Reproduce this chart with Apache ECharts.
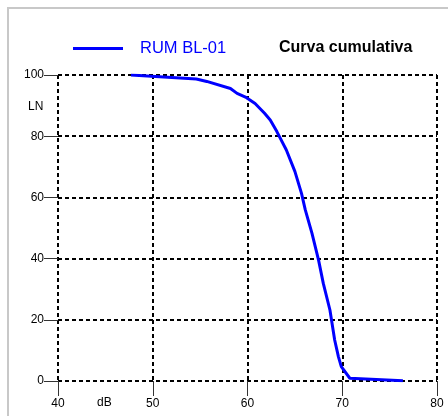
<!DOCTYPE html>
<html>
<head>
<meta charset="utf-8">
<script src="https://cdn.jsdelivr.net/npm/echarts@6/dist/echarts.min.js"></script>
<style>
  html, body { margin: 0; padding: 0; background: #fff; }
  #chart { width: 448px; height: 416px; }
</style>
</head>
<body>
<div id="chart"></div>
<script>
// Cumulative noise-level curve: sound level (dB) vs. percentage exceeded (LN)
const seriesName = 'RUM BL-01';
const chartTitle = 'Curva cumulativa';
const dbValues = [47.7, 54.6, 55.7, 58.2, 58.9, 59.9, 60.8, 61.8, 62.4, 63.1, 64.1, 65.0, 65.7, 66.1, 66.8, 67.5, 68.0, 68.7, 69.2, 69.6, 69.9, 70.8, 76.4];
const lnValues = [100, 98.7, 97.9, 95.6, 94.0, 92.6, 90.7, 87.5, 85.3, 81.5, 75.5, 68.5, 61.3, 55.9, 48.3, 39.5, 31.9, 23.2, 13.4, 7.9, 4.7, 0.9, 0.1];
const xTicks = [40, 50, 60, 70, 80];
const yTicks = [0, 20, 40, 60, 80, 100];

const points = dbValues.map((d, i) => [d, lnValues[i]]);
const font = 'Liberation Sans, Arial, sans-serif';
const gridLine = { show: true, lineStyle: { color: '#000', width: 2, type: [4, 3] } };

const chart = echarts.init(document.getElementById('chart'), null, { renderer: 'canvas' });
chart.setOption({
  animation: false,
  backgroundColor: '#fff',
  textStyle: { fontFamily: font },
  title: {
    text: chartTitle,
    left: 274, top: 35,
    textStyle: { fontSize: 16, fontWeight: 'bold', color: '#000', fontFamily: font }
  },
  legend: {
    left: 68, top: 35,
    itemWidth: 50, itemHeight: 3, itemGap: 10,
    icon: 'rect',
    data: [{ name: seriesName, icon: 'rect' }],
    textStyle: { fontSize: 16.5, color: '#0000ff', fontFamily: font, padding: [0, 0, 2, 12] }
  },
  grid: { left: 58, right: 11, top: 75, bottom: 35, containLabel: false },
  xAxis: {
    type: 'value', min: xTicks[0], max: xTicks[xTicks.length - 1], interval: 10,
    axisLine: { show: false },
    axisTick: { show: true, length: 15, lineStyle: { color: '#333', width: 1 } },
    axisLabel: { fontSize: 12, color: '#000', margin: 17, fontFamily: font },
    splitLine: gridLine
  },
  yAxis: {
    type: 'value', min: yTicks[0], max: yTicks[yTicks.length - 1], interval: 20,
    axisLine: { show: false },
    axisTick: { show: true, length: 14, lineStyle: { color: '#333', width: 1 } },
    axisLabel: { fontSize: 12, color: '#000', margin: 14, fontFamily: font },
    splitLine: gridLine
  },
  graphic: [
    { type: 'rect', silent: true, z: -1,
      shape: { x: 8, y: 8, width: 460, height: 460 },
      style: { fill: null, stroke: '#c8c8c8', lineWidth: 2 } },
    { type: 'text', left: 28, top: 101,
      style: { text: 'LN', fill: '#000', font: '12px ' + font } },
    { type: 'text', left: 97, top: 397,
      style: { text: 'dB', fill: '#000', font: '12px ' + font } }
  ],
  series: [{
    name: seriesName,
    type: 'line',
    data: points,
    showSymbol: false,
    symbol: 'none',
    lineStyle: { color: '#0000ff', width: 3 },
    itemStyle: { color: '#0000ff' },
    z: 5
  }]
});
</script>
</body>
</html>
